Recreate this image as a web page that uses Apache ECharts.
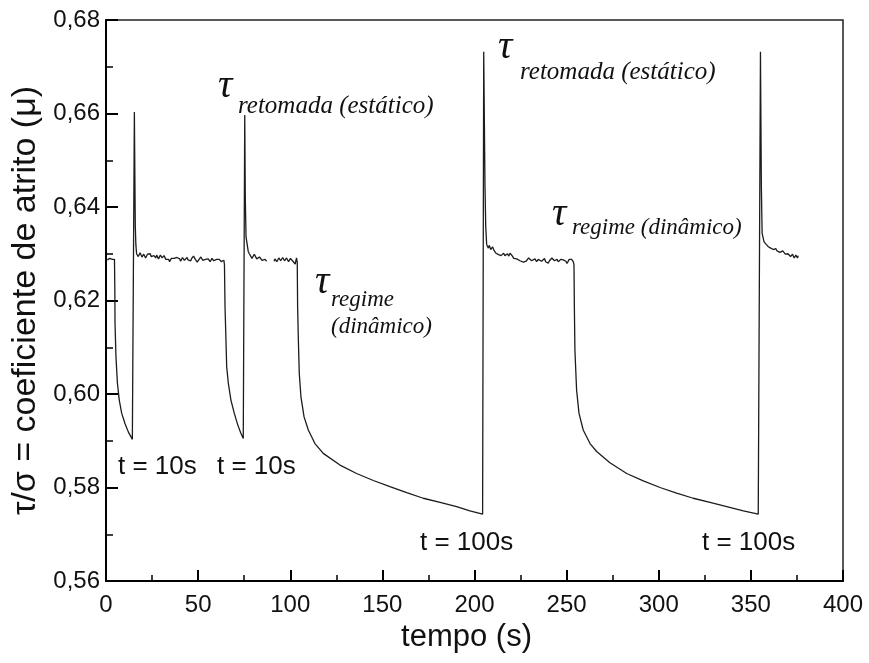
<!DOCTYPE html>
<html>
<head>
<meta charset="utf-8">
<script src="https://cdn.jsdelivr.net/npm/echarts@6/dist/echarts.min.js"></script>
<style>
  html, body { margin: 0; padding: 0; background: #fff; }
  #chart { width: 869px; height: 663px; }
</style>
</head>
<body>
<div id="chart"></div>
<script>
// Friction test: shear/normal ratio over time, with 10 s and 100 s holds.
// Each phase is a short list of [tempo (s), mu] pairs.

const startHold = [[0.7, 0.6287], [2.0, 0.6290], [3.4, 0.6288], [4.6, 0.6288]];
const hold1 = [[4.8, 0.6220], [4.9, 0.6151], [5.4, 0.6080], [6.2, 0.6023], [7.2, 0.5987], [8.5, 0.5959],
  [10.3, 0.5937], [12.1, 0.5919], [14.3, 0.5903], [15.0, 0.5900]];
const restart1 = [[15.4, 0.6603], [15.7, 0.6450], [15.9, 0.6360], [16.2, 0.6320], [16.6, 0.6300]];
const plateau1 = [[17, 0.6300], [17.5, 0.6294], [18, 0.6297], [18.5, 0.6302], [19, 0.6299], [19.5, 0.6293],
  [20, 0.6295], [20.5, 0.6299], [21, 0.6298], [21.5, 0.6291], [22, 0.6294], [22.5, 0.6299],
  [23, 0.6296], [23.5, 0.6301], [24, 0.6300], [24.5, 0.6294], [25, 0.6293], [25.5, 0.6298], [26, 0.6296],
  [26.5, 0.6292], [27, 0.6291], [27.5, 0.6297], [28, 0.6295], [28.5, 0.6289], [29, 0.6292], [29.5, 0.6297],
  [30, 0.6296], [30.5, 0.6291], [31, 0.6290], [31.5, 0.6296], [32, 0.6293], [32.5, 0.6288], [33, 0.6291],
  [33.5, 0.6286], [34, 0.6288], [34.5, 0.6283], [35, 0.6285], [35.5, 0.6290], [36, 0.6292], [36.5, 0.6287],
  [37, 0.6290], [37.5, 0.6294], [38, 0.6287], [38.5, 0.6292], [39, 0.6294], [39.5, 0.6290], [40, 0.6289],
  [40.5, 0.6284], [41, 0.6287], [41.5, 0.6292], [42, 0.6291], [42.5, 0.6286], [43, 0.6286], [43.5, 0.6290],
  [44, 0.6292], [44.5, 0.6287], [45, 0.6288], [45.5, 0.6283], [46, 0.6285], [46.5, 0.6290], [47, 0.6290],
  [47.5, 0.6295], [48, 0.6293], [48.5, 0.6288], [49, 0.6287], [49.5, 0.6282], [50, 0.6284], [50.5, 0.6288],
  [51, 0.6289], [51.5, 0.6293], [52, 0.6291], [52.5, 0.6286], [53, 0.6286], [53.5, 0.6290], [54, 0.6288],
  [54.5, 0.6284], [55, 0.6292], [55.5, 0.6289], [56, 0.6287], [56.5, 0.6283], [57, 0.6285], [57.5, 0.6290],
  [58, 0.6289], [58.5, 0.6285], [59, 0.6286], [59.5, 0.6289], [60, 0.6288], [60.5, 0.6284], [61, 0.6285],
  [61.5, 0.6288], [62, 0.6287], [62.5, 0.6283], [63, 0.6284], [63.5, 0.6287], [64, 0.6286]];
const hold2 = [[64.3, 0.6276], [64.6, 0.6186], [65.1, 0.6116], [65.5, 0.6058], [66.4, 0.6023],
  [67.8, 0.5987], [69.6, 0.5959], [71.5, 0.5934], [73.1, 0.5917], [74.5, 0.5905], [74.9, 0.5903]];
const restart2 = [[75.3, 0.6597], [75.6, 0.6420], [76.0, 0.6336], [77.2, 0.6305]];
const plateau2a = [[77.8, 0.6300], [78.5, 0.6298], [79.2, 0.6290], [79.9, 0.6293], [80.5, 0.6299],
  [81.0, 0.6296], [81.8, 0.6289], [82.7, 0.6287], [83.3, 0.6293], [84.0, 0.6292], [84.7, 0.6286],
  [85.4, 0.6283], [86.3, 0.6288], [87.2, 0.6284]];
const plateau2b = [[91.2, 0.6284], [91.7, 0.6289], [92.2, 0.6287], [92.7, 0.6283], [93.2, 0.6285],
  [93.8, 0.6291], [94.3, 0.6290], [94.8, 0.6285], [95.4, 0.6287], [95.9, 0.6292], [96.4, 0.6291],
  [96.9, 0.6285], [97.5, 0.6286], [98.0, 0.6291], [98.6, 0.6289], [99.1, 0.6283], [99.6, 0.6284],
  [100.1, 0.6290], [100.6, 0.6290], [101.2, 0.6285], [101.7, 0.6287], [102.2, 0.6282], [102.7, 0.6278],
  [103.1, 0.6286], [103.4, 0.6291], [103.8, 0.6282]];
const hold3 = [[104.0, 0.6187], [104.4, 0.6116], [104.9, 0.6044], [105.8, 0.5994], [107.5, 0.5951],
  [109.8, 0.5923], [113.4, 0.5894], [117.9, 0.5873], [127.0, 0.5848], [136.0, 0.5830], [145.1, 0.5815],
  [154.1, 0.5802], [163.2, 0.5789], [172.2, 0.5777], [181.3, 0.5768], [190.3, 0.5759], [197.5, 0.5750],
  [204.4, 0.5743]];
const restart3 = [[205.0, 0.6732], [205.7, 0.6443], [206.1, 0.6358], [206.6, 0.6320]];
const plateau3 = [[207.0, 0.6316], [207.5, 0.6312], [208.0, 0.6318], [208.4, 0.6316], [208.8, 0.6309],
  [209.3, 0.6311], [209.8, 0.6315], [210.2, 0.6314], [210.6, 0.6307], [211.1, 0.6306], [211.7, 0.6301],
  [212.4, 0.6303], [213.1, 0.6298], [213.8, 0.6301], [214.4, 0.6296], [215.1, 0.6297], [215.8, 0.6301],
  [216.5, 0.6296], [217.2, 0.6298], [217.9, 0.6300], [218.6, 0.6295], [219.3, 0.6301], [220.0, 0.6297],
  [220.6, 0.6295], [221.3, 0.6290], [222.0, 0.6294], [222.9, 0.6289], [223.8, 0.6290], [224.7, 0.6285],
  [225.6, 0.6287], [226.5, 0.6282], [227.4, 0.6280], [228.0, 0.6284], [228.7, 0.6286], [229.4, 0.6291],
  [230.1, 0.6290], [231.0, 0.6285], [231.9, 0.6285], [232.8, 0.6289], [233.7, 0.6283], [234.6, 0.6288],
  [235.5, 0.6288], [236.4, 0.6284], [237.3, 0.6287], [238.0, 0.6290], [238.6, 0.6283], [239.3, 0.6279],
  [240.0, 0.6280], [240.7, 0.6285], [241.3, 0.6286], [242.0, 0.6291], [242.7, 0.6290], [243.4, 0.6285],
  [244.1, 0.6284], [244.8, 0.6288], [245.5, 0.6283], [246.1, 0.6287], [246.8, 0.6288], [247.5, 0.6284],
  [248.2, 0.6287], [248.9, 0.6291], [249.6, 0.6284], [250.2, 0.6279], [250.9, 0.6281], [251.4, 0.6288],
  [251.8, 0.6286], [252.3, 0.6290], [252.7, 0.6288], [253.2, 0.6291], [253.6, 0.6283]];
const hold4 = [[254.0, 0.6276], [254.2, 0.6187], [254.5, 0.6094], [255.4, 0.6009], [256.7, 0.5959],
  [259.0, 0.5923], [262.7, 0.5894], [266.3, 0.5877], [273.5, 0.5853], [282.6, 0.5830], [291.6, 0.5814],
  [300.7, 0.5800], [309.7, 0.5788], [318.7, 0.5777], [327.8, 0.5768], [336.9, 0.5759], [345.9, 0.5750],
  [354.0, 0.5743]];
const restart4 = [[355.2, 0.6732], [355.7, 0.6443], [356.1, 0.6344], [357.1, 0.6326]];
const plateau4 = [[357.7, 0.6322], [358.3, 0.6320], [358.9, 0.6316], [359.5, 0.6315], [360.1, 0.6318],
  [360.8, 0.6312], [361.5, 0.6308], [362.2, 0.6309], [362.8, 0.6313], [363.5, 0.6311], [364.2, 0.6306],
  [364.9, 0.6308], [365.8, 0.6303], [366.7, 0.6301], [367.3, 0.6306], [368.0, 0.6305], [368.7, 0.6299],
  [369.4, 0.6302], [370.1, 0.6300], [370.8, 0.6298], [371.5, 0.6294], [372.1, 0.6295], [372.6, 0.6299],
  [373.0, 0.6297], [373.5, 0.6291], [373.9, 0.6292], [374.4, 0.6297], [374.8, 0.6294], [375.3, 0.6291],
  [375.7, 0.6296]];

const xTicks = { min: 0, max: 400, step: 50 };
const yTicks = { min: 0.56, max: 0.68, step: 0.02 };

// Logger stopped briefly near 88-91 s, so the trace is drawn as two runs.
const runA = [].concat(startHold, hold1, restart1, plateau1, hold2, restart2, plateau2a);
const runB = [].concat(plateau2b, hold3, restart3, plateau3, hold4, restart4, plateau4);

const chart = echarts.init(document.getElementById('chart'), null, { renderer: 'canvas' });

const sans = 'Liberation Sans, Arial, sans-serif';
const serif = 'Liberation Serif, Times New Roman, serif';
const ink = '#111';

const lineStyle = { color: '#1c1c1c', width: 1.3 };

function note(x, y, text, font) {
  return { type: 'text', x: x, y: y, style: { text: text, font: font, fill: ink, verticalAlign: 'middle' } };
}
const tauFont = 'italic 40px ' + serif;
const subFont = 'italic 25px ' + serif;
const regimeFont = 'italic 23px ' + serif;
const holdFont = '26px ' + sans;

chart.setOption({
  animation: false,
  backgroundColor: '#fff',
  grid: { left: 106, top: 20, right: 26, bottom: 82, show: true, borderColor: '#222', borderWidth: 1.5 },
  xAxis: {
    type: 'value', min: xTicks.min, max: xTicks.max, interval: xTicks.step,
    name: 'tempo (s)', nameLocation: 'middle', nameGap: 36,
    nameTextStyle: { fontFamily: sans, fontSize: 31, color: ink, padding: [0, 16, 0, 0] },
    axisLine: { show: true, onZero: false, lineStyle: { color: '#000', width: 2 } },
    // negative lengths turn the ticks into the plot area
    axisTick: { show: true, length: -11, lineStyle: { color: '#000', width: 2 } },
    minorTick: { show: true, splitNumber: 2, length: -6, lineStyle: { color: '#000', width: 1.5 } },
    axisLabel: { fontFamily: sans, fontSize: 24, color: ink, margin: 12 },
    splitLine: { show: false }
  },
  yAxis: {
    type: 'value', min: yTicks.min, max: yTicks.max, interval: yTicks.step,
    name: 'τ/σ = coeficiente de atrito (μ)', nameLocation: 'middle', nameGap: 59, nameRotate: 90,
    nameTextStyle: { fontFamily: sans, fontSize: 34, color: ink, padding: [0, 0, 0, 0] },
    axisLine: { show: true, onZero: false, lineStyle: { color: '#000', width: 2 } },
    axisTick: { show: true, length: -12, lineStyle: { color: '#000', width: 2 } },
    minorTick: { show: true, splitNumber: 2, length: -7, lineStyle: { color: '#000', width: 1.5 } },
    axisLabel: {
      fontFamily: sans, fontSize: 24, color: ink, margin: 6,
      formatter: v => v.toFixed(2).replace('.', ',')
    },
    splitLine: { show: false }
  },
  series: [
    { type: 'line', data: runA, showSymbol: false, lineStyle: lineStyle, silent: true },
    { type: 'line', data: runB, showSymbol: false, lineStyle: lineStyle, silent: true }
  ],
  graphic: [
    // static friction peaks (resumption)
    note(218, 86, 'τ', tauFont),
    note(238, 106, 'retomada (estático)', subFont),
    note(498, 47, 'τ', tauFont),
    note(520, 72, 'retomada (estático)', subFont),
    // dynamic steady-state level
    note(315, 282, 'τ', tauFont),
    note(331, 300, 'regime', regimeFont),
    note(331, 327, '(dinâmico)', regimeFont),
    note(552, 214, 'τ', tauFont),
    note(572, 228, 'regime (dinâmico)', regimeFont),
    // hold durations
    note(118, 467, 't = 10s', holdFont),
    note(217, 467, 't = 10s', holdFont),
    note(420, 543, 't = 100s', holdFont),
    note(702, 543, 't = 100s', holdFont)
  ]
});
</script>
</body>
</html>
